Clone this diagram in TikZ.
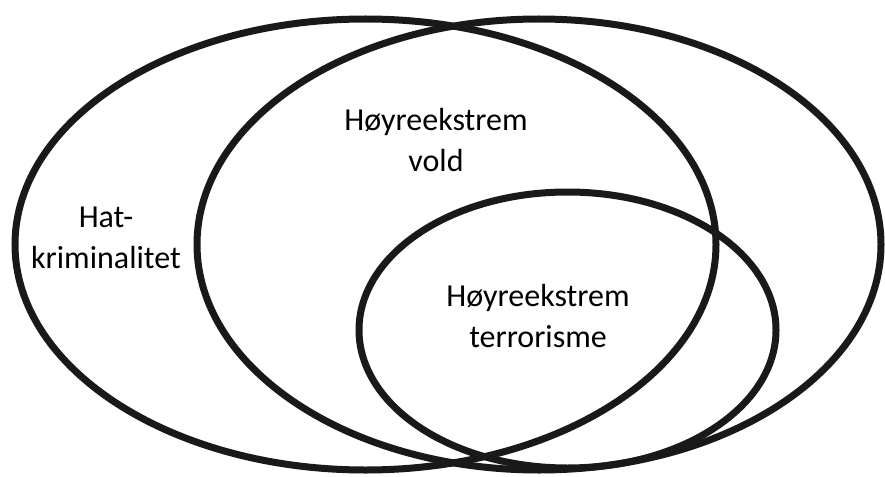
\documentclass[tikz,border=0pt]{standalone}
\usepackage{fontspec}
\setmainfont{Carlito}
\usepackage{tikz}
\usetikzlibrary{shapes,positioning}

\begin{document}
\begin{tikzpicture}[x=1pt, y=-1pt]
\tikzstyle{set}=[draw=black!90, line width=7pt, shape=ellipse, inner sep=0pt]
\tikzstyle{settext}=[align=center, font=\fontsize{32}{41}\selectfont]
\useasboundingbox (0,0) rectangle (885,476);
\node[set, minimum width=701pt, minimum height=451pt] (0) at (365.5,244.5) {};
\node[set, minimum width=684pt, minimum height=451pt] (1) at (539,244.5) {};
\node[set, minimum width=417pt, minimum height=276pt] (2) at (567.5,330) {};

\node[settext] (3) at (106,238) {Hat-\\kriminalitet};
\node[settext] (4) at (436,140) {Høyreekstrem\\vold};
\node[settext] (5) at (538,316) {Høyreekstrem\\terrorisme};
%\node[settext] (6) [below=1cm of 5] {};

\end{tikzpicture}
\end{document}
